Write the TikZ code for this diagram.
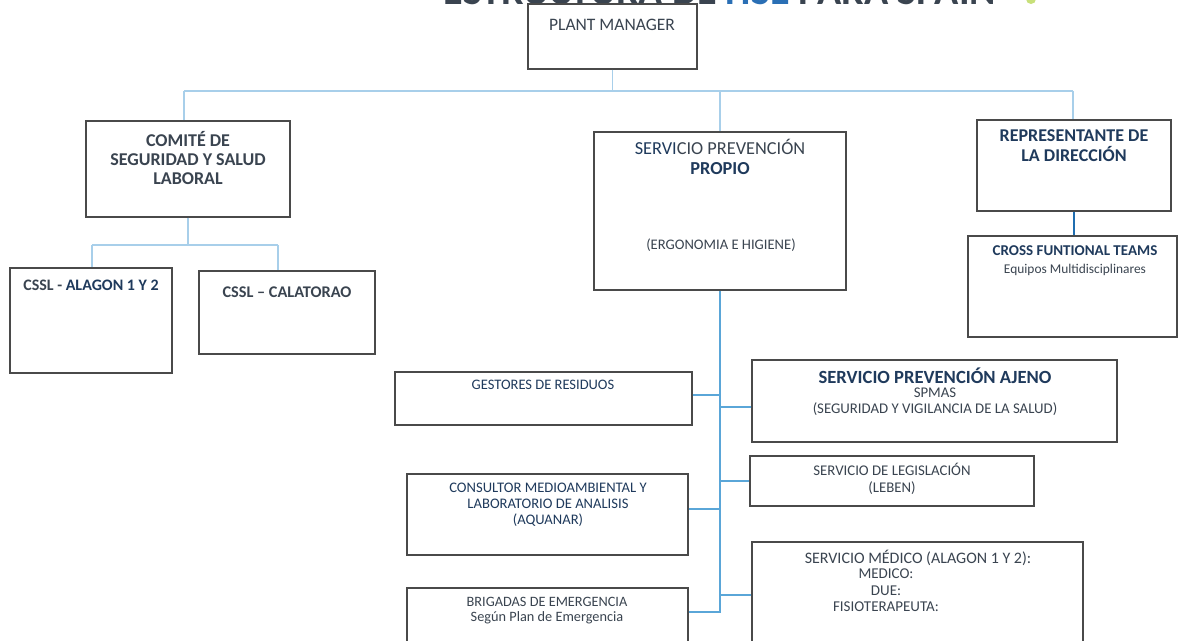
\documentclass[tikz,border=0pt]{standalone}
\usepackage{fontspec}
\setmainfont{Carlito}
\definecolor{boxgray}{HTML}{4A4A4A}
\definecolor{txt}{HTML}{3A4450}
\definecolor{navy}{HTML}{1F3A5C}
\definecolor{hseblue}{HTML}{2A6FB5}
\definecolor{lnlight}{HTML}{A8CFEA}
\definecolor{lnmid}{HTML}{5AA6D8}
\definecolor{lndark}{HTML}{1F6DB0}
\definecolor{dotgreen}{HTML}{C8E07A}
\begin{document}
\begin{tikzpicture}[x=1pt,y=-1pt,
  box/.style={draw=boxgray, line width=1.3pt, inner sep=0pt, rectangle},
  lbl/.style={text=txt, align=center, inner sep=0pt},
  lt/.style={draw=lnlight, line width=1.6pt},
  md/.style={draw=lnmid, line width=1.8pt},
  dk/.style={draw=lndark, line width=2pt}]
\useasboundingbox (0,0) rectangle (1178,640);
\clip (0,0) rectangle (1178,640);
\fill[white] (0,0) rectangle (1178,640);

% title (cut at the top)
\node[anchor=base, inner sep=0pt, text=txt, font=\fontsize{40}{40}\selectfont\bfseries] (title) at (720,4) {ESTRUCTURA DE {\color{hseblue}HSE} PARA SPAIN};
\fill[dotgreen] (1031,-1) circle (5);

% boxes
\node[box, minimum width=169, minimum height=65] (pm) at (612.5,36.5) {};
\node[box, minimum width=204, minimum height=96] (com) at (188,169) {};
\node[box, minimum width=162, minimum height=105] (alg) at (91,320.5) {};
\node[box, minimum width=176, minimum height=83] (cal) at (287,312.5) {};
\node[box, minimum width=252, minimum height=158] (spp) at (720,211) {};
\node[box, minimum width=194, minimum height=91] (rep) at (1074,165.5) {};
\node[box, minimum width=209, minimum height=101] (cft) at (1072.5,286.5) {};
\node[box, minimum width=297, minimum height=53] (ges) at (543.5,398.5) {};
\node[box, minimum width=365, minimum height=82] (spa) at (934.5,401) {};
\node[box, minimum width=284, minimum height=50] (leg) at (892,481) {};
\node[box, minimum width=281, minimum height=81] (con) at (547.5,514.5) {};
\node[box, minimum width=331, minimum height=158] (med) at (917.5,621) {};
\node[box, minimum width=281, minimum height=112] (bri) at (547.5,644) {};

% texts
\node[lbl, font=\fontsize{17.5}{19}\selectfont] (pmt) at (612,25) {PLANT MANAGER};
\node[lbl, font=\fontsize{18}{19}\selectfont\bfseries] (comt) at (188,158) {COMITÉ DE\\SEGURIDAD Y SALUD\\LABORAL};
\node[lbl, font=\fontsize{16}{18}\selectfont\bfseries] (algt) at (91,285) {CSSL - {\color{navy}ALAGON 1 Y 2}};
\node[lbl, font=\fontsize{16.3}{18}\selectfont\bfseries] (calt) at (287,292) {CSSL – CALATORAO};
\node[lbl, font=\fontsize{18.3}{20}\selectfont] (sppt) at (720,157) {{\color{navy}SERVI}CIO PREVENCIÓN\\{\color{navy}\bfseries PROPIO}};
\node[lbl, font=\fontsize{14.6}{16}\selectfont] (sppt2) at (721,245) {(ERGONOMIA E HIGIENE)};
\node[lbl, font=\fontsize{18}{20}\selectfont\bfseries] (rept) at (1074,146) {{\color{navy}REPRESENTANTE DE}\\{\color{navy}LA DIRECCIÓN}};
\node[lbl, font=\fontsize{15}{16}\selectfont\bfseries] (cftt) at (1075,251) {{\color{navy}CROSS FUNTIONAL TEAMS}};
\node[lbl, font=\fontsize{13.4}{15}\selectfont] (cftt2) at (1075,270) {Equipos Multidisciplinares};
\node[lbl, font=\fontsize{14.5}{16}\selectfont] (gest) at (543,385) {{\color{navy}GESTORES DE RESIDUOS}};
\node[lbl, font=\fontsize{18.6}{20}\selectfont\bfseries] (spat) at (935,376) {{\color{navy}SERVICIO PREVENCIÓN AJENO}};
\node[lbl, font=\fontsize{14.8}{16}\selectfont] (spat2) at (935,402) {SPMAS\\(SEGURIDAD Y VIGILANCIA DE LA SALUD)};
\node[lbl, font=\fontsize{14.8}{17}\selectfont] (legt) at (892,478.5) {SERVICIO DE LEGISLACIÓN\\(LEBEN)};
\node[lbl, font=\fontsize{14.6}{16}\selectfont] (cont) at (548,505) {{\color{navy}CONSULTOR MEDIOAMBIENTAL Y}\\{\color{navy}LABORATORIO DE ANALISIS}\\{\color{navy}(AQUANAR)}};
\node[lbl, font=\fontsize{16}{17}\selectfont] (medt) at (918,558) {SERVICIO MÉDICO (ALAGON 1 Y 2):};
\node[lbl, font=\fontsize{15}{16.5}\selectfont] (medt2) at (886,590.5) {MEDICO:\\DUE:\\FISIOTERAPEUTA:};
\node[lbl, font=\fontsize{14.3}{15}\selectfont] (brit) at (547,610.5) {BRIGADAS DE EMERGENCIA\\Según Plan de Emergencia};

% top connectors
\coordinate (tl) at (184,91);
\coordinate (tr) at (1073,91);
\draw[lt] (pm.south) -- (pm.south |- tl);
\draw[lt] (tl) -- (tr);
\draw[lt] (tl) -- (tl |- com.north);
\draw[lt] (spp.north |- tl) -- (spp.north);
\draw[lt] (tr) -- (tr |- rep.north);

% comite connectors
\coordinate (cl) at (92,245);
\coordinate (cr) at (278,245);
\draw[lt] (com.south) -- (com.south |- cl);
\draw[lt] (cl) -- (cr);
\draw[lt] (cl) -- (cl |- alg.north);
\draw[lt] (cr) -- (cr |- cal.north);

% representante -> cross functional
\draw[dk] (rep.south) -- (rep.south |- cft.north);

% spine
\draw[md] (spp.south) -- (spp.south |- 0,613);
\draw[md] (ges.east |- 0,395) -- (spp.south |- 0,395);
\draw[md] (spa.west |- 0,407) -- (spp.south |- 0,407);
\draw[md] (leg.west) -- (leg.west -| spp.south);
\draw[md] (con.east |- 0,509) -- (spp.south |- 0,509);
\draw[md] (med.west |- 0,595) -- (spp.south |- 0,595);
\draw[md] (bri.east |- 0,612) -- (spp.south |- 0,612);
\end{tikzpicture}
\end{document}
